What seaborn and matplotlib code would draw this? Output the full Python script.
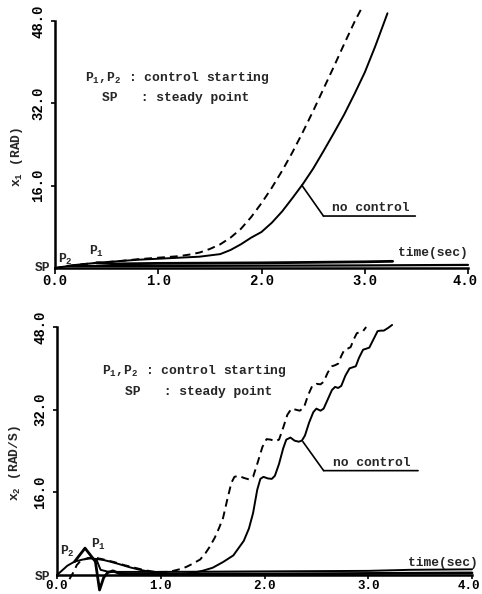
import numpy as np
import pandas as pd
import matplotlib
matplotlib.use("Agg")
import matplotlib.pyplot as plt
import matplotlib.transforms as mtransforms
import seaborn as sns

# ---------------- data ----------------
# top panel: x1 (RAD)
x1_nc_t = [0.0, 0.1, 0.2, 0.3, 0.4, 0.6, 0.8, 1.0, 1.2, 1.4, 1.6, 1.7, 1.8, 1.9, 2.0,
           2.1, 2.2, 2.3, 2.4, 2.5, 2.6, 2.7, 2.8, 2.9, 3.0, 3.1, 3.2, 3.22]
x1_nc_v = [0.0, 0.3, 0.6, 0.8, 1.0, 1.3, 1.6, 1.8, 2.0, 2.2, 2.7, 3.5, 4.6, 5.9, 7.0,
           8.8, 11.0, 13.6, 16.3, 19.3, 22.7, 26.2, 29.8, 33.8, 38.0, 43.0, 48.4, 49.5]
x1_dash_t = [0.0, 0.1, 0.2, 0.3, 0.4, 0.6, 0.8, 1.0, 1.2, 1.3, 1.4, 1.5, 1.6, 1.7, 1.8,
             1.9, 2.0, 2.1, 2.2, 2.3, 2.4, 2.5, 2.6, 2.7, 2.8, 2.9, 2.97]
x1_dash_v = [0.0, 0.3, 0.6, 0.8, 1.0, 1.3, 1.7, 2.0, 2.3, 2.6, 3.0, 3.7, 4.6, 5.9, 7.6,
             9.9, 12.6, 15.6, 18.9, 22.5, 26.4, 30.5, 34.8, 39.1, 43.5, 47.8, 50.5]
x1_ctlA_t = [0.40, 0.6, 1.0, 2.0, 3.0, 3.27]
x1_ctlA_v = [1.0, 0.8, 0.9, 1.0, 1.2, 1.3]
x1_ctlB_t = [0.12, 0.3, 1.0, 2.0, 3.0, 4.0]
x1_ctlB_v = [0.4, 0.4, 0.4, 0.45, 0.5, 0.6]

# bottom panel: x2 (RAD/S)
x2_nc_t = [0.0, 0.05, 0.1, 0.17, 0.25, 0.32, 0.38, 0.45, 0.51, 0.6, 0.7, 0.8, 0.9, 1.0,
           1.1, 1.2, 1.3, 1.4, 1.5, 1.6, 1.7, 1.8, 1.85, 1.89, 1.93, 1.96, 1.99, 2.03,
           2.07, 2.10, 2.14, 2.18, 2.21, 2.25, 2.29, 2.33, 2.36, 2.39, 2.43, 2.47, 2.50,
           2.54, 2.57, 2.61, 2.65, 2.68, 2.71, 2.74, 2.78, 2.82, 2.85, 2.88, 2.91, 2.95,
           2.98, 3.01, 3.05, 3.09, 3.12, 3.15, 3.19, 3.23]
x2_nc_v = [0.0, 0.9, 1.8, 2.6, 3.0, 3.2, 3.1, 2.9, 2.6, 2.1, 1.5, 1.0, 0.6, 0.3,
           0.2, 0.2, 0.4, 0.8, 1.4, 2.5, 3.8, 6.6, 9.0, 12.0, 16.5, 18.6, 19.0, 18.7,
           18.6, 19.2, 21.5, 24.5, 26.2, 26.6, 26.0, 25.8, 26.0, 27.0, 29.5, 31.5, 32.2,
           31.8, 32.2, 34.0, 35.8, 36.4, 36.2, 36.6, 38.6, 40.0, 40.2, 40.4, 42.0, 43.6,
           43.8, 44.0, 45.6, 47.2, 47.3, 47.3, 47.8, 48.4]
x2_dash_t = [0.12, 0.16, 0.19, 0.23, 0.3, 0.38, 0.45, 0.55, 0.65, 0.75, 0.85, 0.95, 1.05,
             1.12, 1.2, 1.25, 1.3, 1.38, 1.43, 1.47, 1.52, 1.56, 1.60, 1.64, 1.68, 1.71,
             1.75, 1.80, 1.85, 1.89, 1.93, 1.98, 2.02, 2.06, 2.10, 2.14, 2.18, 2.22, 2.26,
             2.30, 2.34, 2.38, 2.42, 2.46, 2.50, 2.54, 2.57, 2.61, 2.65, 2.68, 2.71, 2.74,
             2.77, 2.80, 2.83, 2.86, 2.89, 2.92, 2.95, 2.98]
x2_dash_v = [-0.8, 0.6, 1.9, 2.8, 3.3, 3.3, 3.0, 2.5, 1.9, 1.4, 0.9, 0.6, 0.6,
             0.8, 1.2, 1.6, 2.1, 3.0, 4.2, 5.4, 7.2, 9.0, 11.0, 14.5, 17.8, 19.0,
             19.2, 18.8, 18.5, 19.0, 21.5, 24.8, 26.3, 26.2, 25.9, 26.2, 28.5, 31.0, 32.2,
             32.0, 31.8, 32.4, 34.8, 36.6, 37.0, 36.9, 37.4, 39.2, 40.4, 40.6, 40.9, 42.4,
             43.6, 43.8, 44.1, 45.6, 46.8, 47.0, 47.2, 48.0]
x2_ctlA_t = [0.17, 0.27, 0.37, 0.41, 0.45, 0.49, 0.54, 0.6, 0.7, 1.0, 2.0, 3.0, 4.0]
x2_ctlA_v = [2.6, 5.2, 2.6, -2.9, -0.5, 0.5, 0.8, 0.3, 0.2, 0.2, 0.2, 0.3, 0.4]
x2_ctlB_t = [0.38, 0.42, 0.5, 1.0, 2.0, 3.0, 3.4, 4.0]
x2_ctlB_v = [3.0, 1.0, 0.6, 0.6, 0.7, 0.8, 1.0, 1.1]

xticks = [0.0, 1.0, 2.0, 3.0, 4.0]
xticklabels = ["0.0", "1.0", "2.0", "3.0", "4.0"]
yticks = [16.0, 32.0, 48.0]
yticklabels = ["16.0", "32.0", "48.0"]

# ---------------- style ----------------
sns.set_theme(style="ticks")
plt.rcParams["font.family"] = ["Liberation Mono", "DejaVu Sans"]
plt.rcParams["font.weight"] = "bold"
plt.rcParams["mathtext.default"] = "regular"
plt.rcParams["axes.linewidth"] = 1.8

fig = plt.figure(figsize=(4.82, 5.94), dpi=100)
fig.patch.set_facecolor("white")
ax1 = fig.add_axes([55 / 482, (594 - 268) / 594, 413 / 482, 247 / 594])
ax2 = fig.add_axes([57 / 482, 19 / 594, 415 / 482, 248 / 594])

DASH = (0, (4, 2.6))


def draw(ax, t, v, lw=1.4, ls="-"):
    sns.lineplot(x=np.array(t), y=np.array(v), ax=ax, color="black", lw=lw,
                 linestyle=ls, clip_on=False, estimator=None, sort=False)


draw(ax1, x1_nc_t, x1_nc_v)
draw(ax1, x1_dash_t, x1_dash_v, ls=DASH)
draw(ax1, x1_ctlA_t, x1_ctlA_v, lw=2.0)
draw(ax1, x1_ctlB_t, x1_ctlB_v, lw=1.6)

draw(ax2, x2_nc_t, x2_nc_v)
draw(ax2, x2_dash_t, x2_dash_v, ls=DASH)
draw(ax2, x2_ctlA_t, x2_ctlA_v, lw=2.0)
draw(ax2, x2_ctlB_t, x2_ctlB_v, lw=1.4)

for ax, xfs, tlen in ((ax1, 10, 4), (ax2, 9, 3)):
    ax.set_xlim(0, 4)
    ax.set_ylim(0, 48)
    ax.set_facecolor("white")
    sns.despine(ax=ax)
    ax.spines["left"].set_color("black")
    ax.spines["bottom"].set_color("black")
    ax.set_xticks(xticks)
    ax.set_xticklabels(xticklabels, fontsize=xfs)
    ax.set_yticks(yticks)
    ax.set_yticklabels(yticklabels, fontsize=10, rotation=90, va="center")
    ax.tick_params(axis="x", direction="out", length=tlen, width=1.2, pad=0.5, colors="black")
    ax.tick_params(axis="y", direction="out", length=3, width=1.2, pad=4, colors="black")
    ax.set_xlabel("")
    ax.set_ylabel("")

# keep the right-most bottom tick label inside the figure
for ax in (ax1, ax2):
    last = ax.get_xticklabels()[-1]
    last.set_transform(last.get_transform() +
                       mtransforms.ScaledTranslation(-3 / 100, 0, fig.dpi_scale_trans))

fs = 9.4
# top annotations
ax1.text(0.29, 36.9, "P$_1$,P$_2$ : control starting", fontsize=fs, va="center", ha="left")
ax1.text(0.455, 33.0, "SP   : steady point", fontsize=fs, va="center", ha="left")
ax1.text(3.32, 2.9, "time(sec)", fontsize=fs, va="center", ha="left")
ax1.text(2.68, 11.7, "no control", fontsize=fs, va="center", ha="left")
ax1.annotate("", xy=(2.39, 16.1), xytext=(2.60, 10.1),
             arrowprops=dict(arrowstyle="-", color="black", lw=1.2, shrinkA=0, shrinkB=0))
ax1.annotate("", xy=(3.49, 10.1), xytext=(2.60, 10.1),
             arrowprops=dict(arrowstyle="-", color="black", lw=1.2, shrinkA=0, shrinkB=0))
ax1.text(-0.12, 0.0, "SP", fontsize=fs, va="center", ha="center")
ax1.text(0.10, 1.6, "P$_2$", fontsize=fs, va="center", ha="center")
ax1.text(0.40, 3.2, "P$_1$", fontsize=fs, va="center", ha="center")

# bottom annotations
ax2.text(0.43, 39.4, "P$_1$,P$_2$ : control starting", fontsize=fs, va="center", ha="left")
ax2.text(0.655, 35.5, "SP   : steady point", fontsize=fs, va="center", ha="left")
ax2.text(3.38, 2.4, "time(sec)", fontsize=fs, va="center", ha="left")
ax2.text(2.66, 21.6, "no control", fontsize=fs, va="center", ha="left")
ax2.annotate("", xy=(2.37, 25.8), xytext=(2.57, 20.2),
             arrowprops=dict(arrowstyle="-", color="black", lw=1.2, shrinkA=0, shrinkB=0))
ax2.annotate("", xy=(3.48, 20.2), xytext=(2.57, 20.2),
             arrowprops=dict(arrowstyle="-", color="black", lw=1.2, shrinkA=0, shrinkB=0))
ax2.text(-0.14, -0.3, "SP", fontsize=fs, va="center", ha="center")
ax2.text(0.10, 4.5, "P$_2$", fontsize=fs, va="center", ha="center")
ax2.text(0.40, 5.9, "P$_1$", fontsize=fs, va="center", ha="center")

fig.text(17 / 482, 1 - 157 / 594, "x$_1$ (RAD)", rotation=90, fontsize=fs,
         ha="center", va="center")
fig.text(15 / 482, 1 - 463 / 594, "x$_2$ (RAD/S)", rotation=90, fontsize=fs,
         ha="center", va="center")

fig.savefig("out.png", dpi=100, facecolor="white")
